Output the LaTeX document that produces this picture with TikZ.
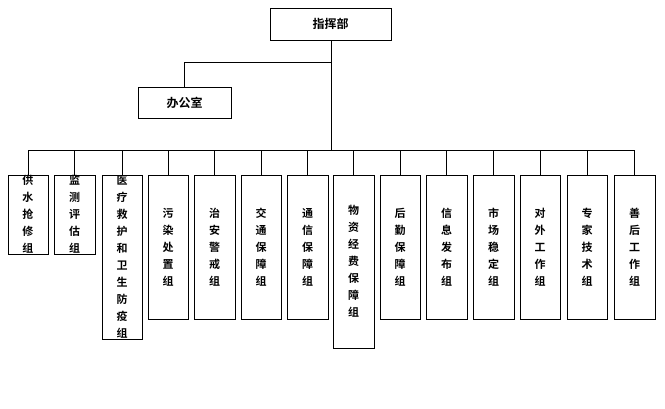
\documentclass[tikz,border=0pt]{standalone}
\usepackage{fontspec}
\newfontfamily\cjk{Noto Sans CJK SC}[BoldFont=* Bold]
\begin{document}
\begin{tikzpicture}[x=1pt,y=-1pt,line width=1pt,
  box/.style={draw,inner sep=0pt,font=\cjk\bfseries\fontsize{11}{17}\selectfont,align=center}]
\useasboundingbox (0,0) rectangle (665,408);
\node[box,minimum width=121pt,minimum height=32pt,font=\cjk\bfseries\fontsize{12}{14}\selectfont] (top) at (330.5,24) {指挥部};
\node[box,minimum width=93pt,minimum height=31pt,font=\cjk\bfseries\fontsize{12}{14}\selectfont] (off) at (184.5,102.5) {办公室};
\coordinate (j1) at (331,62);
\coordinate (j2) at (331,150);
\draw (top.south -| j1) -- (j1) -| (off.north);
\draw (j1) -- (j2);
\def\bx#1#2#3#4#5{\node[box,minimum width=#2pt,minimum height=#4pt-175pt] (#1) at (#3,{(175+#4)/2}) {#5};}
\bx{b1}{40}{28}{254}{供\\水\\抢\\修\\组}
\bx{b2}{41}{74.5}{254}{监\\测\\评\\估\\组}
\bx{b3}{40}{122}{339}{医\\疗\\救\\护\\和\\卫\\生\\防\\疫\\组}
\bx{b4}{40}{168}{319}{污\\染\\处\\置\\组}
\bx{b5}{41}{214.5}{319}{治\\安\\警\\戒\\组}
\bx{b6}{40}{261}{319}{交\\通\\保\\障\\组}
\bx{b7}{41}{307.5}{319}{通\\信\\保\\障\\组}
\bx{b8}{41}{353.5}{348}{物\\资\\经\\费\\保\\障\\组}
\bx{b9}{40}{400}{319}{后\\勤\\保\\障\\组}
\bx{b10}{41}{446.5}{319}{信\\息\\发\\布\\组}
\bx{b11}{41}{493.5}{319}{市\\场\\稳\\定\\组}
\bx{b12}{40}{540}{319}{对\\外\\工\\作\\组}
\bx{b13}{40}{587}{319}{专\\家\\技\\术\\组}
\bx{b14}{41}{634.5}{319}{善\\后\\工\\作\\组}
\draw (b1.north |- j2) -- (b14.north |- j2);
\foreach \b in {b1,b2,b3,b4,b5,b6,b7,b8,b9,b10,b11,b12,b13,b14}
  \draw (\b.north |- j2) -- (\b.north);
\end{tikzpicture}
\end{document}
